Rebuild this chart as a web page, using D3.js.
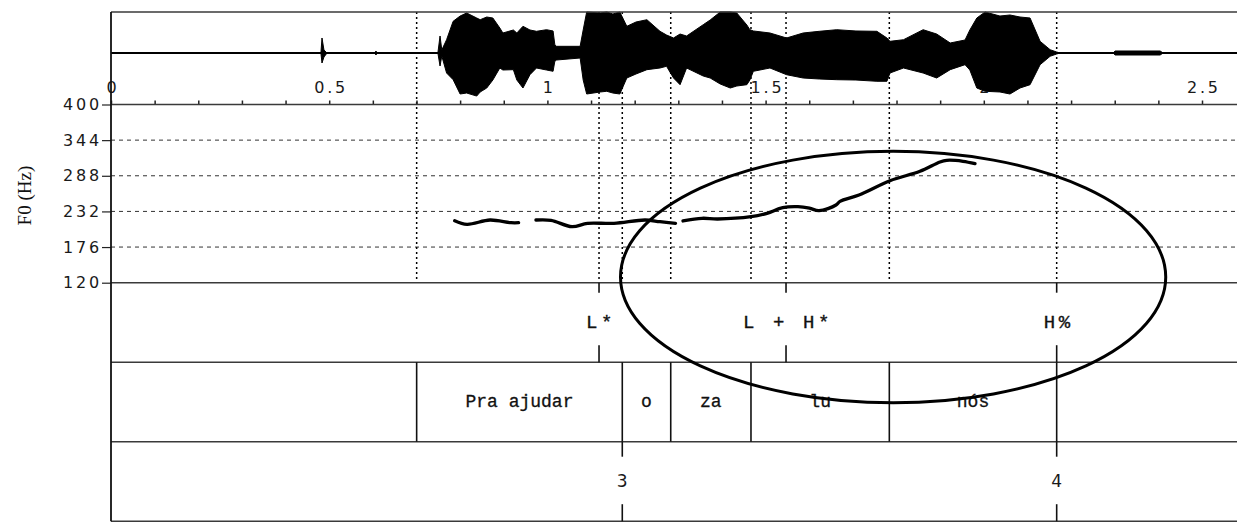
<!DOCTYPE html>
<html>
<head>
<meta charset="utf-8">
<script src="https://cdn.jsdelivr.net/npm/d3@7"></script>
<style>
  body { margin: 0; background: #fff; }
  svg { display: block; }
</style>
</head>
<body>
<svg id="chart" width="1237" height="523"></svg>
<script>
// ---- time axis (seconds) ----
const timeMinorTicks = [0, 0.1, 0.2, 0.3, 0.4, 0.5, 0.6, 0.7, 0.8, 0.9, 1.0, 1.1, 1.2, 1.3,
                        1.4, 1.5, 1.6, 1.7, 1.8, 1.9, 2.0, 2.1, 2.2, 2.3, 2.4, 2.5];
const timeLabelValues = [0, 0.5, 1, 1.5, 2, 2.5];
const timeLabelText = ["0", "0.5", "1", "1.5", "2", "2.5"];

// ---- F0 axis (Hz) ----
const f0Ticks = [120, 176, 232, 288, 344, 400];
const f0Grid = [176, 232, 288, 344];

// ---- waveform envelope (normalised amplitude) ----
const waveTime = [0, 0.479, 0.481, 0.4835, 0.488, 0.495, 0.605, 0.607, 0.610, 0.749,
  0.754, 0.758, 0.769, 0.784, 0.800, 0.815, 0.838, 0.846, 0.861, 0.875,
  0.891, 0.898, 0.922, 0.930, 0.944, 0.960, 0.975, 0.998, 1.013, 1.017,
  1.021, 1.075, 1.082, 1.090, 1.121, 1.136, 1.150, 1.166, 1.182, 1.203,
  1.228, 1.258, 1.273, 1.289, 1.304, 1.319, 1.357, 1.373, 1.396, 1.419,
  1.434, 1.457, 1.464, 1.472, 1.510, 1.548, 1.586, 1.623, 1.663, 1.707,
  1.755, 1.778, 1.785, 1.816, 1.861, 1.892, 1.923, 1.957, 1.968, 1.984,
  2.003, 2.037, 2.060, 2.083, 2.106, 2.129, 2.152, 2.167, 2.175, 2.296,
  2.301, 2.404, 2.411, 2.6];
const waveTop = [0, 0, 0, 0.366, 0.073, 0, 0, 0.049, 0, 0,
  0.415, 0.073, 0.324, 0.773, 0.902, 0.976, 0.854, 0.812, 0.878, 0.854,
  0.61, 0.488, 0.561, 0.488, 0.651, 0.561, 0.529, 0.568, 0.537, 0.202,
  0.163, 0.163, 0.561, 1.0, 0.976, 1.0, 0.951, 1.0, 0.651, 0.756,
  0.812, 0.529, 0.439, 0.366, 0.463, 0.415, 0.69, 0.805, 1.0, 1.0,
  0.976, 0.683, 0.568, 0.537, 0.488, 0.366, 0.488, 0.529, 0.568, 0.537,
  0.529, 0.366, 0.285, 0.324, 0.568, 0.463, 0.244, 0.317, 0.561, 0.854,
  1.0, 0.902, 0.927, 0.878, 0.854, 0.285, 0.08, 0.024, 0, 0,
  0.049, 0.049, 0, 0];
const waveBottom = [0, 0, 0, -0.244, -0.098, 0, 0, -0.049, 0, 0,
  -0.317, -0.073, -0.488, -0.651, -1.0, -0.976, -1.05, -0.951, -0.854, -0.659,
  -0.366, -0.415, -0.407, -0.659, -0.854, -0.529, -0.366, -0.415, -0.446, -0.202,
  -0.171, -0.122, -0.659, -1.0, -0.951, -0.934, -0.976, -1.0, -0.61, -0.512,
  -0.407, -0.366, -0.324, -0.61, -0.773, -0.366, -0.561, -0.61, -0.756, -0.854,
  -0.805, -0.773, -0.659, -0.446, -0.366, -0.529, -0.61, -0.634, -0.651, -0.659,
  -0.69, -0.69, -0.488, -0.366, -0.488, -0.61, -0.407, -0.285, -0.415, -0.854,
  -0.934, -0.951, -1.0, -0.854, -0.773, -0.285, -0.08, -0.024, 0, 0,
  -0.049, -0.049, 0, 0];

// ---- F0 contour (null = unvoiced gap) ----
const f0Time = [0.7876, 0.8158, 0.8685, 0.9166, 0.934, 0.95,
  0.9737, 1.0083, 1.0564, 1.0919, 1.1526, 1.2237, 1.258, 1.2935, 1.30,
  1.3107, 1.3543, 1.39, 1.4665, 1.5032, 1.5392, 1.5742, 1.6006, 1.6224, 1.6613,
  1.6705, 1.714, 1.785, 1.8538, 1.8996, 1.915, 1.9523, 1.9798];
const f0Hz = [217.4, 211.8, 218.5, 214.3, 214.3, null,
  218.5, 218, 208, 213.3, 213.3, 218.5, 215.8, 213.3, null,
  217, 221.2, 220.1, 223.7, 229, 237.9, 239.4, 237, 233.1, 242.1,
  247.9, 257.8, 280.3, 295, 309.7, 312.3, 310.8, 307];

// ---- annotation tiers ----
const segmentMarks = [0.7004, 1.1183, 1.1716, 1.2826, 1.4665, 1.5468, 1.7835, 2.1670];
const toneLabels = ["L*", "L + H*", "H%"];
const toneTimes = [1.1183, 1.5468, 2.1670];
const wordLabels = ["Pra ajudar", "o", "za", "lu", "nós"];
const wordBounds = [0.7004, 1.1716, 1.2826, 1.4665, 1.7835, 2.1670];
const breakLabels = ["3", "4"];
const breakTimes = [1.1716, 2.1670];

// ---- highlighted region (ellipse) ----
const focusTimes = [1.1675, 2.4169];
const focusTopHz = 326.5;

// ================= drawing =================
const W = 1237;
const svg = d3.select("#chart");

const x = d3.scaleLinear().domain([0, 2.6]).range([111, 111 + 2.6 * 436.4]);
const yWave = d3.scaleLinear().domain([-1, 1]).range([94, 12]);
const yF0 = d3.scaleLinear().domain([120, 400]).range([282.7, 104.5]);

const tier = { tone: [282.7, 362.2], word: [362.2, 441.7], brk: [441.7, 521.2] };
const xLeft = x(0), xRight = W + 5;
const lineCol = "#3a3a3a";

// F0 grid lines
svg.append("g").selectAll("line").data(f0Grid).join("line")
  .attr("x1", xLeft).attr("x2", xRight)
  .attr("y1", d => yF0(d)).attr("y2", d => yF0(d))
  .attr("stroke", "#333").attr("stroke-width", 1)
  .attr("stroke-dasharray", "4,4");

// dotted segment marks through waveform and F0 panel
svg.append("g").selectAll("line").data(segmentMarks).join("line")
  .attr("x1", d => x(d)).attr("x2", d => x(d))
  .attr("y1", 12).attr("y2", yF0(120))
  .attr("stroke", "#000").attr("stroke-width", 1.5)
  .attr("stroke-dasharray", "2,3");

// time axis
const timeAxis = d3.axisTop(x)
  .tickValues(timeMinorTicks)
  .tickSize(4)
  .tickPadding(8)
  .tickFormat(d => {
    const k = timeLabelValues.findIndex(v => Math.abs(v - d) < 1e-6);
    return k >= 0 ? timeLabelText[k] : "";
  });
const gT = svg.append("g").attr("transform", `translate(0,${yF0(400)})`).call(timeAxis);
gT.select(".domain").remove();
gT.selectAll(".tick line").attr("stroke", "#222").attr("stroke-width", 1.5);
gT.selectAll(".tick text")
  .attr("font-family", "DejaVu Sans").attr("font-size", 16)
  .attr("letter-spacing", 2.8).attr("dx", 1.4).attr("fill", "#1a1a1a");

// F0 axis
const f0Axis = d3.axisLeft(yF0).tickValues(f0Ticks).tickSize(9).tickPadding(0);
const gF = svg.append("g").attr("transform", `translate(${xLeft},0)`).call(f0Axis);
gF.select(".domain").remove();
gF.selectAll(".tick line").attr("stroke", "#222").attr("stroke-width", 1.2);
gF.selectAll(".tick text")
  .attr("font-family", "DejaVu Sans").attr("font-size", 16)
  .attr("letter-spacing", 2.8).attr("fill", "#1a1a1a");

svg.append("text")
  .attr("transform", `translate(31,${(yF0(120) + yF0(400)) / 2 + 2}) rotate(-90)`)
  .attr("text-anchor", "middle")
  .attr("font-family", "Liberation Serif").attr("font-size", 19)
  .attr("fill", "#111")
  .text("F0 (Hz)");

// waveform
const wavePts = waveTime.map((t, i) => ({ t, top: waveTop[i], bot: waveBottom[i] }));
svg.append("path")
  .datum(wavePts)
  .attr("d", d3.area().x(d => x(d.t)).y0(d => yWave(d.bot)).y1(d => yWave(d.top)))
  .attr("fill", "#000").attr("stroke", "#000").attr("stroke-width", 1);
svg.append("line")
  .attr("x1", xLeft).attr("x2", xRight)
  .attr("y1", yWave(0)).attr("y2", yWave(0))
  .attr("stroke", "#000").attr("stroke-width", 2);

// frame and tier lines
const hLines = [12, yF0(400), tier.tone[0], tier.word[0], tier.brk[0], tier.brk[1]];
svg.append("g").selectAll("line").data(hLines).join("line")
  .attr("x1", xLeft).attr("x2", xRight)
  .attr("y1", d => d).attr("y2", d => d)
  .attr("stroke", lineCol).attr("stroke-width", 1.6);
svg.append("line")
  .attr("x1", xLeft).attr("x2", xLeft)
  .attr("y1", 12).attr("y2", tier.brk[1])
  .attr("stroke", "#111").attr("stroke-width", 1.8);

// F0 contour
const f0Pts = f0Time.map((t, i) => ({ t, hz: f0Hz[i] }));
svg.append("path")
  .datum(f0Pts)
  .attr("d", d3.line().defined(d => d.hz != null)
    .x(d => x(d.t)).y(d => yF0(d.hz)).curve(d3.curveCatmullRom))
  .attr("fill", "none").attr("stroke", "#000")
  .attr("stroke-width", 3.3).attr("stroke-linecap", "round");

// tone tier: point marks with short ticks at top and bottom
const gTone = svg.append("g");
toneTimes.forEach((t, i) => {
  gTone.append("line").attr("x1", x(t)).attr("x2", x(t))
    .attr("y1", tier.tone[0]).attr("y2", tier.tone[0] + 10)
    .attr("stroke", "#111").attr("stroke-width", 1.6);
  gTone.append("line").attr("x1", x(t)).attr("x2", x(t))
    .attr("y1", tier.tone[1] - 17).attr("y2", tier.tone[1])
    .attr("stroke", "#111").attr("stroke-width", 1.6);
  gTone.append("text")
    .attr("x", x(t) + 2).attr("y", 327.5)
    .attr("text-anchor", "middle")
    .attr("font-family", "Liberation Mono").attr("font-size", 19)
    .attr("letter-spacing", 3.6).attr("fill", "#111")
    .attr("stroke", "#111").attr("stroke-width", 0.35)
    .style("white-space", "pre")
    .text(toneLabels[i]);
});

// word tier: interval boundaries and centred labels
const gWord = svg.append("g");
gWord.selectAll("line").data(wordBounds).join("line")
  .attr("x1", d => x(d)).attr("x2", d => x(d))
  .attr("y1", tier.word[0]).attr("y2", tier.word[1])
  .attr("stroke", "#111").attr("stroke-width", 1.6);
gWord.selectAll("text").data(wordLabels).join("text")
  .attr("x", (d, i) => (x(wordBounds[i]) + x(wordBounds[i + 1])) / 2)
  .attr("y", 407.3)
  .attr("text-anchor", "middle")
  .attr("font-family", "Liberation Mono").attr("font-size", 18)
  .attr("fill", "#111").attr("stroke", "#111").attr("stroke-width", 0.3)
  .text(d => d);

// break-index tier
const gBrk = svg.append("g");
breakTimes.forEach((t, i) => {
  gBrk.append("line").attr("x1", x(t)).attr("x2", x(t))
    .attr("y1", tier.brk[0]).attr("y2", tier.brk[0] + 15)
    .attr("stroke", "#111").attr("stroke-width", 1.6);
  gBrk.append("line").attr("x1", x(t)).attr("x2", x(t))
    .attr("y1", tier.brk[1] - 17).attr("y2", tier.brk[1])
    .attr("stroke", "#111").attr("stroke-width", 1.6);
  gBrk.append("text")
    .attr("x", x(t)).attr("y", 487.3)
    .attr("text-anchor", "middle")
    .attr("font-family", "DejaVu Sans").attr("font-size", 17)
    .attr("fill", "#1a1a1a")
    .text(breakLabels[i]);
});

// ellipse around the rising stretch
const eTop = yF0(focusTopHz);
const eBottom = (tier.word[0] + tier.word[1]) / 2 + 0.8;
svg.append("ellipse")
  .attr("cx", (x(focusTimes[0]) + x(focusTimes[1])) / 2)
  .attr("cy", (eTop + eBottom) / 2)
  .attr("rx", (x(focusTimes[1]) - x(focusTimes[0])) / 2)
  .attr("ry", (eBottom - eTop) / 2)
  .attr("fill", "none").attr("stroke", "#000").attr("stroke-width", 3);
</script>
</body>
</html>
